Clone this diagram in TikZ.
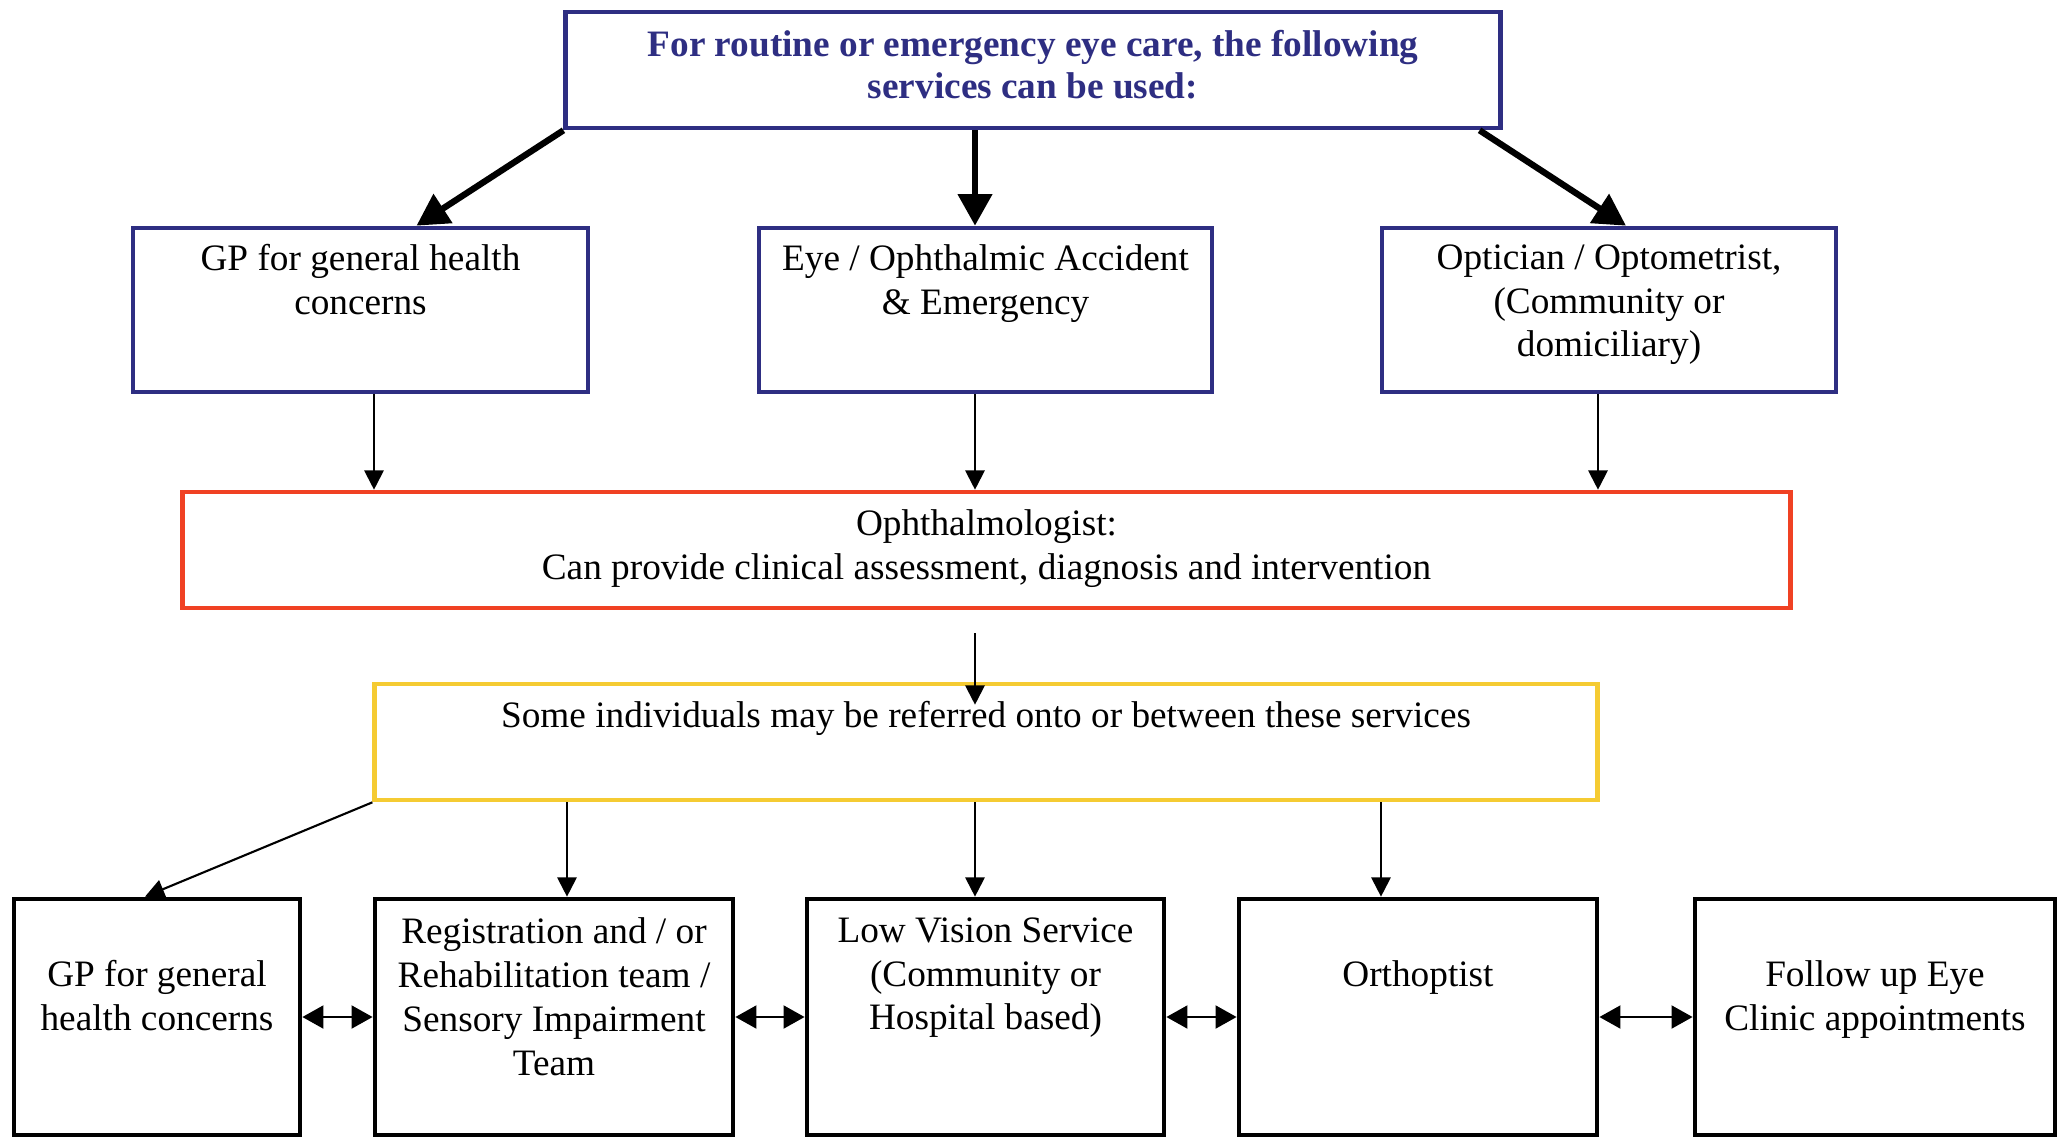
\documentclass[tikz,border=0pt]{standalone}
\usepackage{fontspec}
\setmainfont{Liberation Serif}
\usetikzlibrary{arrows.meta, positioning, calc}

\definecolor{navy}{RGB}{46,46,130}
\definecolor{ophred}{RGB}{240,65,35}
\definecolor{refyellow}{RGB}{245,203,50}

\tikzset{
  box/.style={draw, line width=1.3pt, inner sep=0pt},
  txt/.style={inner sep=0pt, align=center, font=\fontsize{10.6}{12.5}\selectfont},
  title/.style={txt, text=navy, font=\fontsize{10.6}{11.8}\selectfont\bfseries},
  bigarrow/.style={line width=1.8pt, -{Triangle[length=9pt, width=9.5pt]}},
  arrow/.style={line width=0.6pt, -{Triangle[length=5.5pt, width=5.5pt]}},
  dblarrow/.style={line width=0.75pt, {Triangle[length=6pt, width=6.5pt]}-{Triangle[length=6pt, width=6.5pt]}},
}

\begin{document}
\begin{tikzpicture}[x=0.01cm, y=-0.01cm]
    \useasboundingbox (0,0) rectangle (2062,1138);

    % boxes
    \node[box, navy, minimum width=9.34cm, minimum height=1.16cm] (top) at (1033,70) {};
    \node[box, navy, minimum width=4.55cm, minimum height=1.64cm] (gp) at (360.5,310) {};
    \node[box, navy, minimum width=4.53cm, minimum height=1.64cm] (eye) at (985.5,310) {};
    \node[box, navy, minimum width=4.54cm, minimum height=1.64cm] (opt) at (1609,310) {};
    \node[box, ophred, minimum width=16.07cm, minimum height=1.16cm] (oph) at (986.5,550) {};
    \node[box, refyellow, minimum width=12.22cm, minimum height=1.16cm] (refer) at (986,742) {};
    \node[box, minimum width=2.86cm, minimum height=2.36cm] (gp2) at (157,1017) {};
    \node[box, minimum width=3.58cm, minimum height=2.36cm] (reg) at (554,1017) {};
    \node[box, minimum width=3.57cm, minimum height=2.36cm] (lvs) at (985.5,1017) {};
    \node[box, minimum width=3.58cm, minimum height=2.36cm] (orth) at (1418,1017) {};
    \node[box, minimum width=3.60cm, minimum height=2.36cm] (fup) at (1875,1017) {};

    % texts
    \node[title, below=0.20cm of top.north] (top-t) {For routine or emergency eye care, the following\\services can be used:};
    \node[txt, below=0.18cm of gp.north] (gp-t) {GP for general health\\concerns};
    \node[txt, below=0.18cm of eye.north] (eye-t) {Eye / Ophthalmic Accident\\\& Emergency};
    \node[txt, below=0.18cm of opt.north] (opt-t) {Optician / Optometrist,\\(Community or\\domiciliary)};
    \node[txt, below=0.19cm of oph.north] (oph-t) {Ophthalmologist:\\Can provide clinical assessment, diagnosis and intervention};
    \node[txt, below=0.19cm of refer.north] (refer-t) {Some individuals may be referred onto or between these services};
    \node[txt, below=0.63cm of gp2.north] (gp2-t) {GP for general\\health concerns};
    \node[txt, below=0.20cm of reg.north] (reg-t) {Registration and / or\\Rehabilitation team /\\Sensory Impairment\\Team};
    \node[txt, below=0.20cm of lvs.north] (lvs-t) {Low Vision Service\\(Community or\\Hospital based)};
    \node[txt, below=0.63cm of orth.north] (orth-t) {Orthoptist};
    \node[txt, below=0.63cm of fup.north] (fup-t) {Follow up Eye\\Clinic appointments};

    % columns of the vertical arrows
    \coordinate (xa) at (374,0);
    \coordinate (xb) at (567,0);
    \coordinate (xm) at (975,0);
    \coordinate (xc) at (1381,0);
    \coordinate (xd) at (1598,0);

    \draw [bigarrow] (top.south west) -- ($(gp.north)+(56,0)$);
    \draw [bigarrow] (xm |- top.south) -- (xm |- eye.north);
    \draw [bigarrow] ($(top.south east)+(-23,0)$) -- ($(opt.north)+(17,0)$);

    \draw [arrow] (xa |- gp.south) -- (xa |- oph.north);
    \draw [arrow] (xm |- eye.south) -- (xm |- oph.north);
    \draw [arrow] (xd |- opt.south) -- (xd |- oph.north);
    \draw [arrow] ($(xm |- oph.south)+(0,23)$) -- ($(xm |- refer.north)+(0,23)$);

    \draw [arrow] (refer.south west) -- ($(gp2.north)+(-12,0)$);
    \draw [arrow] (xb |- refer.south) -- (xb |- reg.north);
    \draw [arrow] (xm |- refer.south) -- (xm |- lvs.north);
    \draw [arrow] (xc |- refer.south) -- (xc |- orth.north);

    \draw [dblarrow] (gp2.east) -- (reg.west);
    \draw [dblarrow] (reg.east) -- (lvs.west);
    \draw [dblarrow] (lvs.east) -- (orth.west);
    \draw [dblarrow] (orth.east) -- (fup.west);
\end{tikzpicture}
\end{document}
